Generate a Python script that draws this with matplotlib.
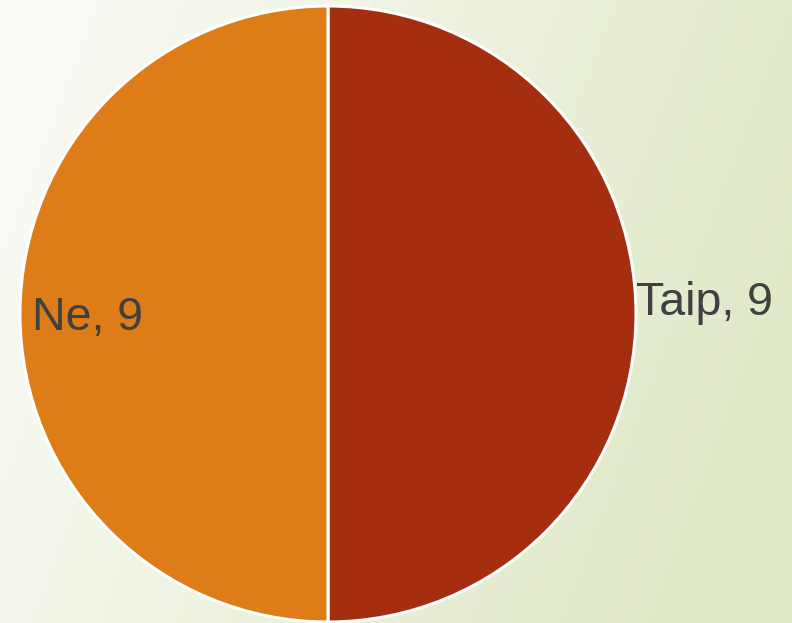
import numpy as np
import matplotlib.pyplot as plt

labels = ['Taip', 'Ne']
values = [9, 9]
colors = ['#a52e10', '#de7c17']

fig = plt.figure(figsize=(7.92, 6.23), dpi=100)

# background gradient, light top-left to pale green bottom-right
bg = fig.add_axes([0, 0, 1, 1], zorder=0)
gx, gy = np.meshgrid(np.linspace(0, 1, 300), np.linspace(0, 1, 300))
t = np.clip(0.85 * gx + 0.25 * gy, 0, 1)
c0 = np.array([251, 252, 248]) / 255
c1 = np.array([223, 232, 198]) / 255
img = c0[None, None, :] * (1 - t[..., None]) + c1[None, None, :] * t[..., None]
bg.imshow(img, aspect='auto', extent=[0, 1, 0, 1], origin='upper')
bg.axis('off')

ax = fig.add_axes([20 / 792, 1 / 623, 616 / 792, 616 / 623], zorder=1)
ax.pie(values, colors=colors, startangle=90, counterclock=False,
       wedgeprops=dict(edgecolor='white', linewidth=2.2), radius=1)
ax.set_xlim(-1, 1)
ax.set_ylim(-1, 1)
ax.axis('off')

font = dict(family=['Liberation Sans', 'DejaVu Sans'], size=33.5, color='#404040')
ax.text(1.0, 0.036, f'{labels[0]}, {values[0]}', ha='left', va='center', clip_on=False, **font)
ax.text(-0.961, -0.013, f'{labels[1]}, {values[1]}', ha='left', va='center', **font)

fig.savefig('out.png', dpi=100)
